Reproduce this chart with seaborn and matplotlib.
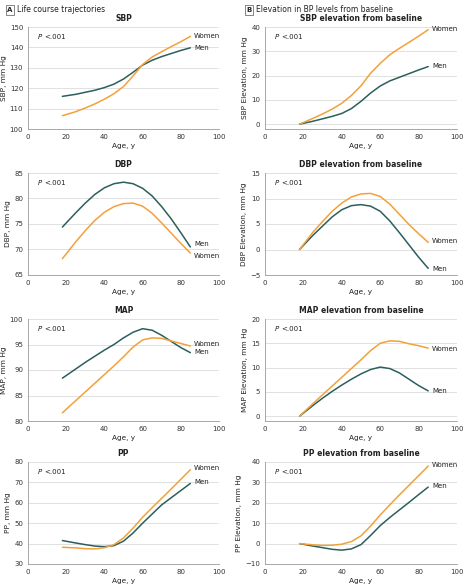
import matplotlib
matplotlib.use("Agg")
import matplotlib.pyplot as plt
import seaborn as sns
import pandas as pd

ages = [18, 25, 30, 35, 40, 45, 50, 55, 60, 65, 70, 75, 80, 85]

sbp_men = [116.0, 117.0, 118.0, 119.0, 120.3, 122.0, 124.5, 127.8, 131.3, 133.7, 135.5, 137.0, 138.5, 139.8]
sbp_women = [106.5, 108.5, 110.3, 112.3, 114.6, 117.3, 120.8, 126.0, 131.6, 135.3, 137.9, 140.4, 142.8, 145.4]
sbp_el_men = [0, 1.2, 2.2, 3.2, 4.4, 6.4, 9.4, 12.8, 15.7, 17.8, 19.3, 20.8, 22.3, 23.7]
sbp_el_women = [0, 2.4, 4.2, 6.2, 8.6, 11.8, 15.8, 21.0, 25.0, 28.6, 31.2, 33.7, 36.2, 38.9]
dbp_men = [74.4, 77.2, 79.1, 80.8, 82.1, 82.9, 83.2, 82.9, 82.0, 80.5, 78.4, 76.0, 73.3, 70.5]
dbp_women = [68.2, 71.5, 73.7, 75.7, 77.3, 78.4, 79.0, 79.1, 78.5, 77.1, 75.2, 73.2, 71.2, 69.3]
dbp_el_men = [0, 2.8, 4.6, 6.4, 7.8, 8.6, 8.8, 8.5, 7.5, 5.6, 3.3, 0.9, -1.5, -3.7]
dbp_el_women = [0, 3.4, 5.5, 7.5, 9.1, 10.3, 10.9, 11.0, 10.4, 8.9, 6.9, 4.9, 3.1, 1.4]
map_men = [88.4, 90.2, 91.5, 92.7, 93.9, 95.0, 96.3, 97.4, 98.1, 97.8, 96.8, 95.6, 94.4, 93.4]
map_women = [81.6, 84.0, 85.7, 87.4, 89.1, 90.8, 92.6, 94.5, 95.9, 96.3, 96.2, 95.7, 95.2, 94.7]
map_el_men = [0, 2.2, 3.7, 5.1, 6.4, 7.6, 8.7, 9.6, 10.1, 9.8, 8.9, 7.6, 6.3, 5.2]
map_el_women = [0, 2.6, 4.4, 6.2, 8.0, 9.8, 11.6, 13.5, 15.0, 15.5, 15.4, 14.9, 14.5, 14.0]
pp_men = [41.5, 40.3, 39.5, 38.8, 38.5, 39.0, 41.2, 45.2, 50.0, 54.5, 59.0, 62.5, 66.0, 69.5]
pp_women = [38.2, 37.9, 37.5, 37.4, 38.0, 39.5, 42.8, 47.6, 52.9, 57.6, 62.2, 66.8, 71.5, 76.2]
pp_el_men = [0, -1.2, -2.0, -2.8, -3.2, -2.6, -0.5, 4.0, 8.8, 12.8, 16.5, 20.2, 24.0, 27.7]
pp_el_women = [0, -0.6, -0.9, -0.8, -0.3, 1.0, 3.8, 8.6, 14.0, 19.0, 23.9, 28.6, 33.3, 38.0]

titles = ["SBP", "SBP elevation from baseline", "DBP", "DBP elevation from baseline",
          "MAP", "MAP elevation from baseline", "PP", "PP elevation from baseline"]
ylabels = ["SBP, mm Hg", "SBP Elevation, mm Hg", "DBP, mm Hg", "DBP Elevation, mm Hg",
           "MAP, mm Hg", "MAP Elevation, mm Hg", "PP, mm Hg", "PP Elevation, mm Hg"]
yticks = [[100, 110, 120, 130, 140, 150], [0, 10, 20, 30, 40],
          [65, 70, 75, 80, 85], [-5, 0, 5, 10, 15],
          [80, 85, 90, 95, 100], [0, 5, 10, 15, 20],
          [30, 40, 50, 60, 70, 80], [-10, 0, 10, 20, 30, 40]]
ylims = [(100, 150), (-2, 40), (65, 85), (-5, 15), (80, 100), (-1, 20), (30, 80), (-10, 40)]
men_series = [sbp_men, sbp_el_men, dbp_men, dbp_el_men, map_men, map_el_men, pp_men, pp_el_men]
women_series = [sbp_women, sbp_el_women, dbp_women, dbp_el_women, map_women, map_el_women, pp_women, pp_el_women]
# label y positions (men, women)
label_y = [(139.8, 145.6), (23.9, 39.0), (71.0, 68.8), (-3.9, 1.7),
           (93.5, 95.1), (5.2, 13.9), (70.3, 77.0), (28.2, 38.6)]
xticks = [0, 20, 40, 60, 80, 100]

MEN = "#2b5f5c"
WOMEN = "#f2a13a"

sns.set_style("white")
plt.rcParams['font.family'] = ['DejaVu Sans']
fig = plt.figure(figsize=(4.67, 5.88), dpi=100)
W, H = 467, 588

cols = [(28, 191), (265, 192)]
rows = [27, 173, 319, 462]
ah = 102

for i in range(8):
    r, c = i // 2, i % 2
    x0, w = cols[c]
    top = rows[r]
    ax = fig.add_axes([x0 / W, 1 - (top + ah) / H, w / W, ah / H])
    df = pd.DataFrame({
        "Age": ages * 2,
        "val": men_series[i] + women_series[i],
        "Sex": ["Men"] * len(ages) + ["Women"] * len(ages),
    })
    sns.lineplot(data=df, x="Age", y="val", hue="Sex", palette={"Men": MEN, "Women": WOMEN},
                 ax=ax, legend=False, linewidth=1.1)
    ax.set_xlim(0, 100)
    ax.set_ylim(*ylims[i])
    ax.set_xticks(xticks)
    ax.set_yticks(yticks[i])
    ax.yaxis.grid(True, color="#dcdcdc", linewidth=0.6)
    ax.set_axisbelow(True)
    for s in ["top", "right"]:
        ax.spines[s].set_visible(False)
    for s in ["left", "bottom"]:
        ax.spines[s].set_color("#9a9a9a")
        ax.spines[s].set_linewidth(0.6)
    ax.tick_params(axis="both", labelsize=5, length=2, width=0.5, color="#9a9a9a", pad=1.5, labelcolor="#333333")
    ax.set_xlabel("Age, y", fontsize=5.3, labelpad=2, color="#222222")
    ax.set_ylabel(ylabels[i], fontsize=5.3, labelpad=2, color="#222222")
    ax.set_title(titles[i], fontsize=5.5, fontweight="bold", pad=4, color="#222222")
    ax.text(0.05, 0.88, "P", style="italic", fontsize=5, transform=ax.transAxes, color="#222222")
    ax.text(0.085, 0.88, "<.001", fontsize=5, transform=ax.transAxes, color="#222222")
    ym, yw = label_y[i]
    ax.text(87, ym, "Men", fontsize=5, va="center", ha="left", color="#222222")
    ax.text(87, yw, "Women", fontsize=5, va="center", ha="left", color="#222222")

def header(xpx, letter, text):
    fig.text(xpx / W, 1 - 10 / H, letter, fontsize=5, fontweight="bold", va="center", ha="center",
             bbox=dict(boxstyle="square,pad=0.25", fc="white", ec="#555555", lw=0.5))
    fig.text((xpx + 7) / W, 1 - 10 / H, text, fontsize=5.5, va="center", ha="left", color="#222222")

header(10, "A", "Life course trajectories")
header(249, "B", "Elevation in BP levels from baseline")

fig.savefig("out.png", dpi=100)
